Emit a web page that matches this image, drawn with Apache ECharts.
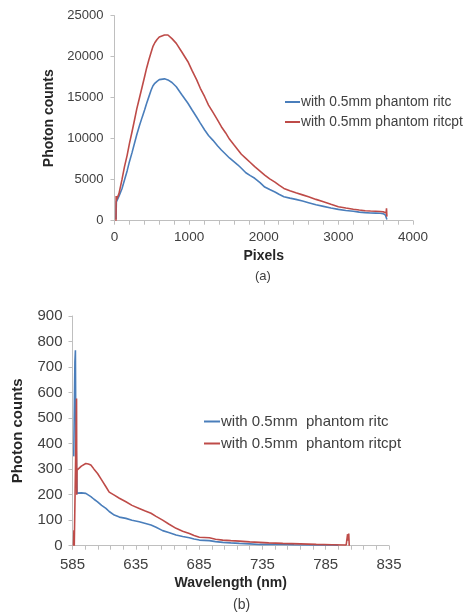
<!DOCTYPE html>
<html>
<head>
<meta charset="utf-8">
<script src="https://cdn.jsdelivr.net/npm/echarts@6/dist/echarts.min.js"></script>
<style>html,body{margin:0;padding:0;background:#fff}#c{width:465px;height:613px}</style>
</head>
<body>
<div id="c"></div>
<script>
// ---- Chart (a): photon counts vs pixels ----
const namesA = ["with 0.5mm phantom ritc", "with 0.5mm phantom ritcpt"];
const ritcA = [[20,200],[25,2300],[60,3000],[100,3900],[134,4960],[170,6100],[200,7200],[235,8300],[268,9440],[300,10550],[335,11600],[370,12600],[403,13500],[430,14300],[460,15100],[490,15900],[514,16430],[540,16750],[570,17000],[600,17200],[626,17280],[670,17300],[716,17170],[770,16850],[828,16340],[900,15400],[984,14320],[1040,13500],[1100,12650],[1150,11900],[1208,11060],[1260,10400],[1320,9800],[1380,9150],[1432,8620],[1490,8100],[1540,7650],[1600,7200],[1655,6790],[1700,6400],[1760,5850],[1820,5500],[1879,5170],[1950,4650],[2013,4100],[2080,3800],[2150,3500],[2210,3200],[2270,2930],[2350,2750],[2430,2600],[2520,2400],[2600,2200],[2700,1950],[2800,1750],[2900,1550],[3000,1380],[3100,1250],[3200,1150],[3280,1050],[3360,980],[3430,940],[3500,920],[3560,900],[3600,860],[3630,700],[3650,150]];
const ritcptA = [[20,0],[22,3000],[30,2600],[60,3300],[100,5000],[134,6590],[170,8000],[200,9400],[235,10850],[268,12280],[300,13700],[335,15000],[370,16300],[403,17560],[430,18600],[460,19600],[490,20500],[514,21220],[540,21700],[570,22100],[600,22400],[626,22520],[670,22650],[716,22650],[770,22200],[828,21630],[900,20600],[984,19390],[1040,18300],[1100,17200],[1150,16150],[1208,15120],[1260,14100],[1320,13200],[1380,12300],[1432,11460],[1490,10700],[1540,9950],[1600,9250],[1655,8620],[1700,8100],[1760,7600],[1820,7100],[1879,6590],[1950,6050],[2013,5570],[2080,5100],[2150,4700],[2210,4300],[2270,3940],[2350,3650],[2430,3400],[2520,3150],[2600,2930],[2700,2600],[2800,2300],[2900,2000],[3000,1710],[3100,1550],[3200,1400],[3280,1300],[3360,1220],[3430,1180],[3500,1150],[3560,1120],[3600,1100],[3640,950],[3645,1500],[3650,500]];

// ---- Chart (b): photon counts vs wavelength ----
const namesB = ["with 0.5mm  phantom ritc", "with 0.5mm  phantom ritcpt"];
const wavelengthStart = 585;
const ritcB = [[586.0,350],[586.5,560],[586.9,720],[587.3,766],[587.5,560],[587.7,446],[588.2,300],[588.6,206],[590,208],[592,207],[595.5,205],[597,200],[599.5,192],[602,182],[604.8,172],[608,158],[611.4,146],[614,134],[618,120],[622,112],[627.2,107],[632,100],[637.7,94],[642,88],[647,81],[651,72],[656.2,59],[661,52],[666.8,42],[672,36],[677.3,31],[681,26],[685.2,22],[689,21],[693.1,20],[698,16],[703.7,13],[710,11],[716.9,9],[725,7],[732.7,5],[740,5],[751.1,5],[760,4],[777.5,3],[790.7,3],[795,2]];
const ritcptB = [[585.8,0],[586.1,60],[586.4,0],[587.8,0],[588.2,577],[588.4,200],[588.6,296],[590,300],[592,312],[595.5,322],[597.5,320],[599.5,316],[602,300],[604.8,283],[608,258],[611.4,231],[614,210],[618,198],[622,186],[627.2,172],[632,158],[637.7,146],[642,137],[647,127],[651,115],[656.2,100],[661,85],[666.8,68],[672,57],[677.3,48],[681,40],[685.2,33],[689,32],[693.1,31],[698,25],[703.7,22],[710,20],[716.9,18],[725,15],[732.7,13],[740,11],[751.1,9],[765,7],[777.5,5],[790,4],[801.2,3],[802.3,45],[802.8,20],[803.2,48],[803.6,0]];

const BLUE = '#4a7ebb', RED = '#be4b48';
const FONT = 'Liberation Sans, Arial, sans-serif';
const axisLine = {show: true, lineStyle: {color: '#bfbfbf', width: 1}};
const shiftB = arr => arr.map(p => [p[0] - wavelengthStart, p[1]]);
const plain = v => String(v);

const chart = echarts.init(document.getElementById('c'), null, {renderer: 'canvas'});
chart.setOption({
  animation: false,
  textStyle: {fontFamily: FONT},
  grid: [
    {left: 114.5, top: 15.7, width: 298.5, height: 205},
    {left: 72.5, top: 316, width: 316.5, height: 229.7}
  ],
  xAxis: [
    {gridIndex: 0, type: 'value', min: 0, max: 4000, interval: 1000,
     name: 'Pixels', nameLocation: 'middle', nameGap: 28,
     nameTextStyle: {fontFamily: FONT, fontWeight: 'bold', fontSize: 14, color: '#262626'},
     axisLine: axisLine, axisTick: {show: true, length: 4, lineStyle: {color: '#bfbfbf'}},
     minorTick: {show: true, splitNumber: 5, length: 4, lineStyle: {color: '#bfbfbf'}},
     splitLine: {show: false},
     axisLabel: {fontFamily: FONT, fontSize: 13.5, color: '#404040', margin: 10, formatter: plain}},
    {gridIndex: 1, type: 'value', min: 0, max: 250, interval: 50,
     name: 'Wavelength (nm)', nameLocation: 'middle', nameGap: 30,
     nameTextStyle: {fontFamily: FONT, fontWeight: 'bold', fontSize: 14, color: '#262626'},
     axisLine: axisLine, axisTick: {show: true, length: 4, lineStyle: {color: '#bfbfbf'}},
     minorTick: {show: true, splitNumber: 5, length: 4, lineStyle: {color: '#bfbfbf'}},
     splitLine: {show: false},
     axisLabel: {fontFamily: FONT, fontSize: 15, color: '#404040', margin: 12,
                 formatter: v => String(v + wavelengthStart)}}
  ],
  yAxis: [
    {gridIndex: 0, type: 'value', min: 0, max: 25000, interval: 5000,
     name: 'Photon counts', nameLocation: 'middle', nameGap: 56,
     nameTextStyle: {fontFamily: FONT, fontWeight: 'bold', fontSize: 14, color: '#262626'},
     axisLine: axisLine, axisTick: {show: true, length: 4, lineStyle: {color: '#bfbfbf'}},
     splitLine: {show: false},
     axisLabel: {fontFamily: FONT, fontSize: 13, color: '#404040', margin: 11, formatter: plain}},
    {gridIndex: 1, type: 'value', min: 0, max: 900, interval: 100,
     name: 'Photon counts', nameLocation: 'middle', nameGap: 47,
     nameTextStyle: {fontFamily: FONT, fontWeight: 'bold', fontSize: 15, color: '#262626'},
     axisLine: axisLine, axisTick: {show: true, length: 4, lineStyle: {color: '#bfbfbf'}},
     splitLine: {show: false},
     axisLabel: {fontFamily: FONT, fontSize: 15, color: '#404040', margin: 10, formatter: plain}}
  ],
  legend: [
    {data: namesA, orient: 'vertical', left: 285, top: 95, padding: 0, itemWidth: 15, itemHeight: 2, itemGap: 6,
     icon: 'rect', textStyle: {fontFamily: FONT, fontSize: 13.8, color: '#404040', padding: [0,0,0,-4]}},
    {data: namesB, orient: 'vertical', left: 199, top: 409, itemWidth: 16, itemHeight: 2, itemGap: 7,
     icon: 'rect', textStyle: {fontFamily: FONT, fontSize: 15, color: '#404040', padding: [0,0,0,-4]}}
  ],
  series: [
    {name: namesA[0], type: 'line', xAxisIndex: 0, yAxisIndex: 0, data: ritcA, showSymbol: false,
     lineStyle: {color: BLUE, width: 1.6}, itemStyle: {color: BLUE}},
    {name: namesA[1], type: 'line', xAxisIndex: 0, yAxisIndex: 0, data: ritcptA, showSymbol: false,
     lineStyle: {color: RED, width: 1.6}, itemStyle: {color: RED}},
    {name: namesB[0], type: 'line', xAxisIndex: 1, yAxisIndex: 1, data: shiftB(ritcB), showSymbol: false,
     lineStyle: {color: BLUE, width: 1.6}, itemStyle: {color: BLUE}},
    {name: namesB[1], type: 'line', xAxisIndex: 1, yAxisIndex: 1, data: shiftB(ritcptB), showSymbol: false,
     lineStyle: {color: RED, width: 1.6}, itemStyle: {color: RED}}
  ],
  graphic: [
    {type: 'text', top: 270, left: 255, style: {text: '(a)', fontFamily: FONT, fontSize: 13, fill: '#404040'}},
    {type: 'text', top: 598, left: 233, style: {text: '(b)', fontFamily: FONT, fontSize: 14, fill: '#404040'}}
  ]
});
</script>
</body>
</html>
